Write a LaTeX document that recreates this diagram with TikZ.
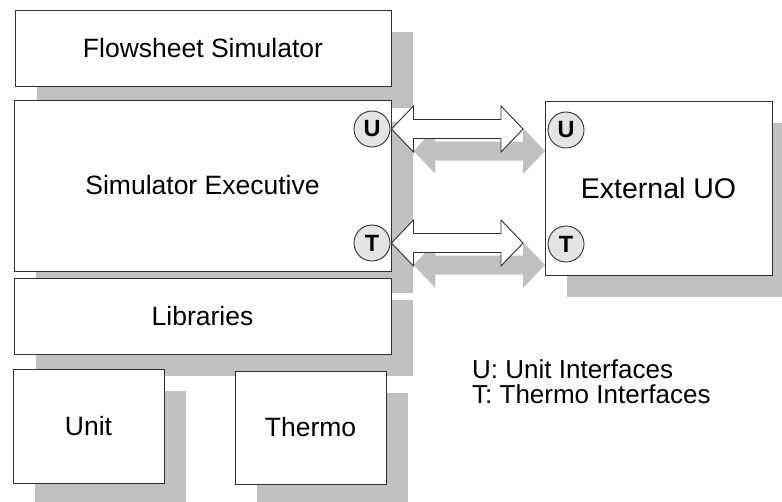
\documentclass[tikz,border=0pt]{standalone}
\usepackage{fontspec}
\setmainfont{Liberation Sans}
\usetikzlibrary{calc}
\pgfdeclarelayer{bg}
\pgfsetlayers{bg,main}
\definecolor{shadowgray}{HTML}{C0C0C0}
\definecolor{circfill}{HTML}{E4E4E4}
\definecolor{edge}{HTML}{303030}
\tikzset{
  box/.style={draw=edge, line width=0.9pt, fill=white, inner sep=0pt, anchor=center,
    font=\fontsize{26.5}{30}\selectfont},
  port/.style={circle, draw=edge, line width=0.9pt, fill=circfill, inner sep=0pt,
    minimum size=36pt, font=\bfseries\fontsize{23.5}{24}\selectfont},
  legend/.style={anchor=base west, inner sep=0pt, text height=18pt, text depth=0pt,
    font=\fontsize{26}{28}\selectfont},
  shadowfill/.style={fill=shadowgray, draw=none},
  whitearrow/.style={fill=white, draw=edge, line width=0.9pt, line join=miter}
}
% #1 style, #2 left tip, #3 right tip, #4 offset
\newcommand\dblarr[4]{%
  \path[#1] ($(#2)+#4$) -- ++(22,-23) -- ++(0,13.5)
    -- ($(#3)+#4+(-22,-9.5)$) -- ++(0,-13.5) -- ($(#3)+#4$)
    -- ++(-22,23) -- ++(0,-13.5)
    -- ($(#2)+#4+(22,9.5)$) -- ++(0,13.5) -- cycle;}
\begin{document}
\begin{tikzpicture}[x=1pt,y=1pt]
\useasboundingbox (0,0) rectangle (782,-501);
% boxes
\node[box, minimum width=376pt, minimum height=76pt] (fs) at (203,-48) {Flowsheet Simulator};
\node[box, minimum width=377pt, minimum height=171pt] (exec) at (202.5,-185.5) {Simulator Executive};
\node[box, minimum width=377pt, minimum height=76pt] (lib) at (202.5,-316) {Libraries};
\node[box, minimum width=151pt, minimum height=114pt] (unit) at (88.5,-426) {Unit};
\node[box, minimum width=151pt, minimum height=113pt] (thermo) at (310.5,-427.5) {Thermo};
\node[box, minimum width=227pt, minimum height=174pt, font=\fontsize{28.5}{32}\selectfont] (ext) at (658.5,-188) {External UO};
% shadows
\begin{pgfonlayer}{bg}
\foreach \n in {fs,exec,lib,unit,thermo,ext}{
  \fill[shadowgray] ($(\n.south west)+(22,-22)$) rectangle ($(\n.north east)+(22,-22)$);
}
\end{pgfonlayer}
% ports
\node[port] (uL) at (372,-129) {U};
\node[port] (tL) at (372,-243) {T};
\node[port] (uR) at (566,-130) {U};
\node[port] (tR) at (566,-244) {T};
% arrow tips
\coordinate (ua) at (exec.east |- uL);
\coordinate (ub) at (523,-129);
\coordinate (ta) at (exec.east |- tL);
\coordinate (tb) at (523,-243);
% arrow shadows
\dblarr{shadowfill}{ua}{ub}{(22,-22)}
\dblarr{shadowfill}{ta}{tb}{(22,-22)}
% arrows
\dblarr{whitearrow}{ua}{ub}{(0,0)}
\dblarr{whitearrow}{ta}{tb}{(0,0)}
% legend
\node[legend] (lu) at (472,-378) {U: Unit Interfaces};
\node[legend] (lt) at (472,-403) {T: Thermo Interfaces};
\end{tikzpicture}
\end{document}
